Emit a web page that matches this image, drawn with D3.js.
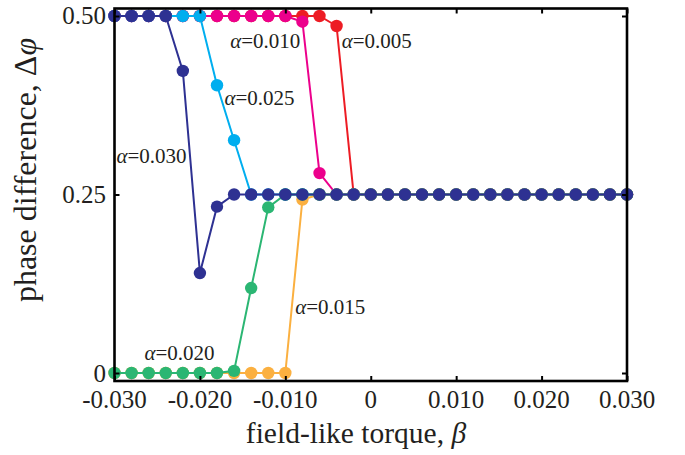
<!DOCTYPE html>
<html>
<head>
<meta charset="utf-8">
<script src="https://cdn.jsdelivr.net/npm/d3@7/dist/d3.min.js"></script>
<style>
  html, body { margin: 0; padding: 0; background: #fff; }
  svg { display: block; }
  text { font-family: "Liberation Serif", "Times New Roman", serif; fill: #231f20; }
</style>
</head>
<body>
<svg id="chart" width="685" height="455"></svg>
<script>
// field-like torque values (x axis)
const beta = [
  -0.030, -0.028, -0.026, -0.024, -0.022, -0.020, -0.018, -0.016, -0.014, -0.012, -0.010,
  -0.008, -0.006, -0.004, -0.002, 0.000, 0.002, 0.004, 0.006, 0.008, 0.010,
  0.012, 0.014, 0.016, 0.018, 0.020, 0.022, 0.024, 0.026, 0.028, 0.030
];

// phase difference for each damping constant
const phase005 = [0.5, 0.5, 0.5, 0.5, 0.5, 0.5, 0.5, 0.5, 0.5, 0.5, 0.5, 0.5, 0.5, 0.486, 0.25, 0.25,
  0.25, 0.25, 0.25, 0.25, 0.25, 0.25, 0.25, 0.25, 0.25, 0.25, 0.25, 0.25, 0.25, 0.25, 0.25];
const phase010 = [0.5, 0.5, 0.5, 0.5, 0.5, 0.5, 0.5, 0.5, 0.5, 0.5, 0.5, 0.492, 0.280, 0.25, 0.25, 0.25,
  0.25, 0.25, 0.25, 0.25, 0.25, 0.25, 0.25, 0.25, 0.25, 0.25, 0.25, 0.25, 0.25, 0.25, 0.25];
const phase015 = [0, 0, 0, 0, 0, 0, 0, 0, 0, 0, 0, 0.243, 0.25, 0.25, 0.25, 0.25,
  0.25, 0.25, 0.25, 0.25, 0.25, 0.25, 0.25, 0.25, 0.25, 0.25, 0.25, 0.25, 0.25, 0.25, 0.25];
const phase020 = [0, 0, 0, 0, 0, 0, 0, 0.003, 0.119, 0.232, 0.25, 0.25, 0.25, 0.25, 0.25, 0.25,
  0.25, 0.25, 0.25, 0.25, 0.25, 0.25, 0.25, 0.25, 0.25, 0.25, 0.25, 0.25, 0.25, 0.25, 0.25];
const phase025 = [0.5, 0.5, 0.5, 0.5, 0.5, 0.5, 0.403, 0.326, 0.25, 0.25, 0.25, 0.25, 0.25, 0.25, 0.25, 0.25,
  0.25, 0.25, 0.25, 0.25, 0.25, 0.25, 0.25, 0.25, 0.25, 0.25, 0.25, 0.25, 0.25, 0.25, 0.25];
const phase030 = [0.5, 0.5, 0.5, 0.5, 0.423, 0.140, 0.233, 0.25, 0.25, 0.25, 0.25, 0.25, 0.25, 0.25, 0.25, 0.25,
  0.25, 0.25, 0.25, 0.25, 0.25, 0.25, 0.25, 0.25, 0.25, 0.25, 0.25, 0.25, 0.25, 0.25, 0.25];

const alphas = ["0.005", "0.010", "0.015", "0.020", "0.025", "0.030"];
const colors = ["#ed1c24", "#ec008c", "#fbb040", "#2bb673", "#00aeef", "#2e3192"];

// tick labels
const xTicks = [-0.030, -0.020, -0.010, 0, 0.010, 0.020, 0.030];
const xTickLabels = ["-0.030", "-0.020", "-0.010", "0", "0.010", "0.020", "0.030"];
const yTicks = [0, 0.25, 0.5];
const yTickLabels = ["0", "0.25", "0.50"];

// curve annotations, anchored in data units
const annoAlpha = ["0.010", "0.005", "0.025", "0.030", "0.020", "0.015"];
const annoBeta  = [-0.01646, -0.00340, -0.01713, -0.02977, -0.02650, -0.00885];
const annoPhase = [0.4555, 0.4555, 0.3754, 0.2945, 0.0182, 0.0822];

const seriesValues = {
  "0.005": phase005, "0.010": phase010, "0.015": phase015,
  "0.020": phase020, "0.025": phase025, "0.030": phase030
};
// bottom-to-top stacking of the curves
const drawOrder = ["0.005", "0.010", "0.025", "0.015", "0.020", "0.030"];

const svg = d3.select("#chart");
const x = d3.scaleLinear().domain([-0.030, 0.030]).range([114.5, 627]);
const y = d3.scaleLinear().domain([-0.0112, 0.5105]).range([381, 8.5]);
const color = d3.scaleOrdinal().domain(alphas).range(colors);

const [x0, x1] = x.range();
const [yb, yt] = y.range();
const tickLen = 5;

// curves
const line = d3.line().x(d => x(d[0])).y(d => y(d[1]));
const plot = svg.append("g");
drawOrder.forEach(a => {
  const pts = beta.map((b, i) => [b, seriesValues[a][i]]);
  const g = plot.append("g");
  g.append("path")
    .datum(pts)
    .attr("d", line)
    .attr("fill", "none")
    .attr("stroke", color(a))
    .attr("stroke-width", 2);
  g.selectAll("circle")
    .data(pts)
    .join("circle")
    .attr("cx", d => x(d[0]))
    .attr("cy", d => y(d[1]))
    .attr("r", 6.2)
    .attr("fill", color(a));
});

// frame with inward ticks on all four sides
const axisStyle = g => {
  g.select(".domain").remove();
  g.selectAll(".tick line").attr("stroke", "#000").attr("stroke-width", 2);
  g.selectAll(".tick text").remove();
};
svg.append("g").attr("transform", `translate(0,${yb})`)
  .call(d3.axisBottom(x).tickValues(xTicks).tickSizeInner(-tickLen).tickSizeOuter(0)).call(axisStyle);
svg.append("g").attr("transform", `translate(0,${yt})`)
  .call(d3.axisTop(x).tickValues(xTicks).tickSizeInner(-tickLen).tickSizeOuter(0)).call(axisStyle);
svg.append("g").attr("transform", `translate(${x0},0)`)
  .call(d3.axisLeft(y).tickValues(yTicks).tickSizeInner(-tickLen).tickSizeOuter(0)).call(axisStyle);
svg.append("g").attr("transform", `translate(${x1},0)`)
  .call(d3.axisRight(y).tickValues(yTicks).tickSizeInner(-tickLen).tickSizeOuter(0)).call(axisStyle);

svg.append("rect")
  .attr("x", x0).attr("y", yt)
  .attr("width", x1 - x0).attr("height", yb - yt)
  .attr("fill", "none").attr("stroke", "#000").attr("stroke-width", 2.6);

// tick labels
svg.append("g").selectAll("text")
  .data(xTicks)
  .join("text")
  .attr("x", d => x(d))
  .attr("y", 408)
  .attr("text-anchor", "middle")
  .attr("font-size", 25)
  .text((d, i) => xTickLabels[i]);

svg.append("g").selectAll("text")
  .data(yTicks)
  .join("text")
  .attr("x", 106)
  .attr("y", d => y(d))
  .attr("dy", "0.34em")
  .attr("text-anchor", "end")
  .attr("font-size", 25)
  .text((d, i) => yTickLabels[i]);

// axis titles
const xt = svg.append("text")
  .attr("x", 356).attr("y", 443)
  .attr("text-anchor", "middle")
  .attr("font-size", 29.5);
xt.append("tspan").text("field-like torque, ");
xt.append("tspan").attr("font-style", "italic").text("β");

const yt2 = svg.append("text")
  .attr("transform", "translate(36,170) rotate(-90)")
  .attr("text-anchor", "middle")
  .attr("font-size", 32);
yt2.append("tspan").text("phase difference, Δ");
yt2.append("tspan").attr("font-style", "italic").text("φ");

// curve annotations
annoAlpha.forEach((a, i) => {
  const t = svg.append("text")
    .attr("x", x(annoBeta[i]))
    .attr("y", y(annoPhase[i]))
    .attr("font-size", 21);
  t.append("tspan").attr("font-style", "italic").text("α");
  t.append("tspan").text("=" + a);
});
</script>
</body>
</html>
